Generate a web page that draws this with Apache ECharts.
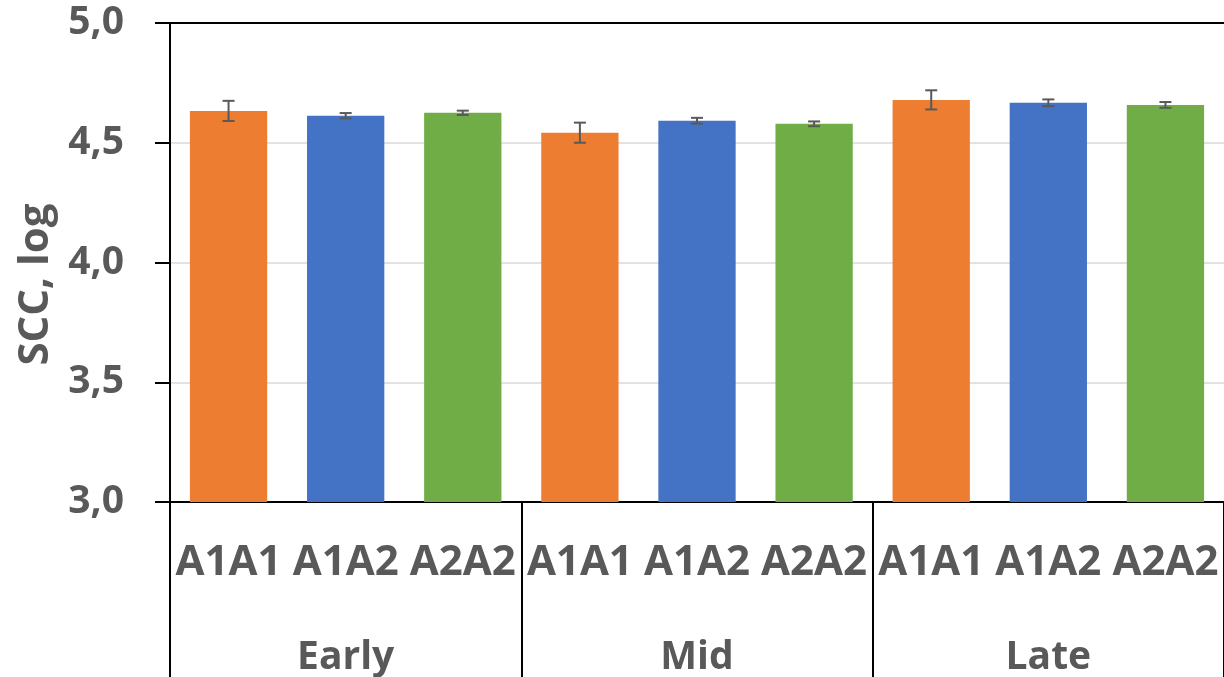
<!DOCTYPE html>
<html>
<head>
<meta charset="utf-8">
<script src="https://cdn.jsdelivr.net/npm/echarts@6/dist/echarts.min.js"></script>
<style>html,body{margin:0;padding:0;background:#fff;}#c{width:1224px;height:677px;}</style>
</head>
<body>
<div id="c"></div>
<script>
// ---- data ----
var stages = ['Early', 'Mid', 'Late'];
var genotypes = ['A1A1', 'A1A2', 'A2A2'];
var genoColors = ['#ED7D31', '#4472C4', '#70AD47'];
// means per genotype, in stage order
var meanA1A1 = [4.633, 4.542, 4.679];
var meanA1A2 = [4.613, 4.592, 4.667];
var meanA2A2 = [4.625, 4.579, 4.658];
// error (± half-length) per genotype
var errA1A1 = [0.042, 0.042, 0.040];
var errA1A2 = [0.011, 0.012, 0.014];
var errA2A2 = [0.009, 0.010, 0.012];
var yTickLabels = ['3,0', '3,5', '4,0', '4,5', '5,0'];
var yTickValues = [3.0, 3.5, 4.0, 4.5, 5.0];

var means = [meanA1A1, meanA1A2, meanA2A2];
var errs = [errA1A1, errA1A2, errA2A2];
var cats = [], barData = [], errData = [];
stages.forEach(function (s, si) {
  genotypes.forEach(function (g, gi) {
    var idx = cats.length;
    cats.push(g);
    barData.push({ value: means[gi][si], itemStyle: { color: genoColors[gi] } });
    errData.push([idx, means[gi][si] - errs[gi][si], means[gi][si] + errs[gi][si]]);
  });
});

var FONT = 'Open Sans';
var TXT = '#595959';
var chart = echarts.init(document.getElementById('c'));
chart.setOption({
  animation: false,
  grid: { left: 170, right: -4, top: 23, bottom: 175, containLabel: false },
  xAxis: [
    {
      type: 'category', data: cats, position: 'bottom',
      axisLine: { show: true, lineStyle: { color: '#000', width: 2 } },
      axisTick: { show: false },
      axisLabel: { interval: 0, margin: 40, color: TXT, fontFamily: FONT, fontWeight: 'bold', fontSize: 42 }
    },
    {
      type: 'category', data: stages, position: 'bottom', gridIndex: 0,
      axisLine: { show: false },
      axisTick: { show: true, interval: 0, length: 180, lineStyle: { color: '#000', width: 2 } },
      axisLabel: { interval: 0, margin: 136, color: TXT, fontFamily: FONT, fontWeight: 'bold', fontSize: 39 }
    },
    {
      type: 'category', data: cats, position: 'top',
      axisLine: { show: true, lineStyle: { color: '#000', width: 2 } },
      axisTick: { show: false }, axisLabel: { show: false }
    }
  ],
  yAxis: {
    type: 'value', min: 3.0, max: 5.0, interval: 0.5,
    name: 'SCC, log', nameLocation: 'middle', nameGap: 110,
    nameTextStyle: { color: TXT, fontFamily: FONT, fontWeight: 'bold', fontSize: 42, padding: [0, 44, 0, 0] },
    axisLine: { show: true, lineStyle: { color: '#000', width: 2 } },
    axisTick: { show: true, length: 15, lineStyle: { color: '#000', width: 2 } },
    splitLine: { show: true, lineStyle: { color: '#d9d9d9', width: 1.5 } },
    axisLabel: {
      margin: 46, color: TXT, fontFamily: FONT, fontWeight: 'bold', fontSize: 39,
      formatter: function (v) {
        var i = yTickValues.indexOf(Math.round(v * 10) / 10);
        return i >= 0 ? yTickLabels[i] : '';
      }
    }
  },
  series: [
    {
      type: 'bar', xAxisIndex: 0, data: barData, barWidth: '66%'
    },
    {
      type: 'custom', xAxisIndex: 0, data: errData, z: 10,
      renderItem: function (params, api) {
        var x = api.value(0);
        var lo = api.coord([x, api.value(1)]);
        var hi = api.coord([x, api.value(2)]);
        var hw = 6;
        var st = { stroke: '#595959', lineWidth: 2 };
        return {
          type: 'group',
          children: [
            { type: 'line', shape: { x1: lo[0], y1: lo[1], x2: hi[0], y2: hi[1] }, style: st },
            { type: 'line', shape: { x1: lo[0] - hw, y1: lo[1], x2: lo[0] + hw, y2: lo[1] }, style: st },
            { type: 'line', shape: { x1: hi[0] - hw, y1: hi[1], x2: hi[0] + hw, y2: hi[1] }, style: st }
          ]
        };
      }
    }
  ]
});
</script>
</body>
</html>
